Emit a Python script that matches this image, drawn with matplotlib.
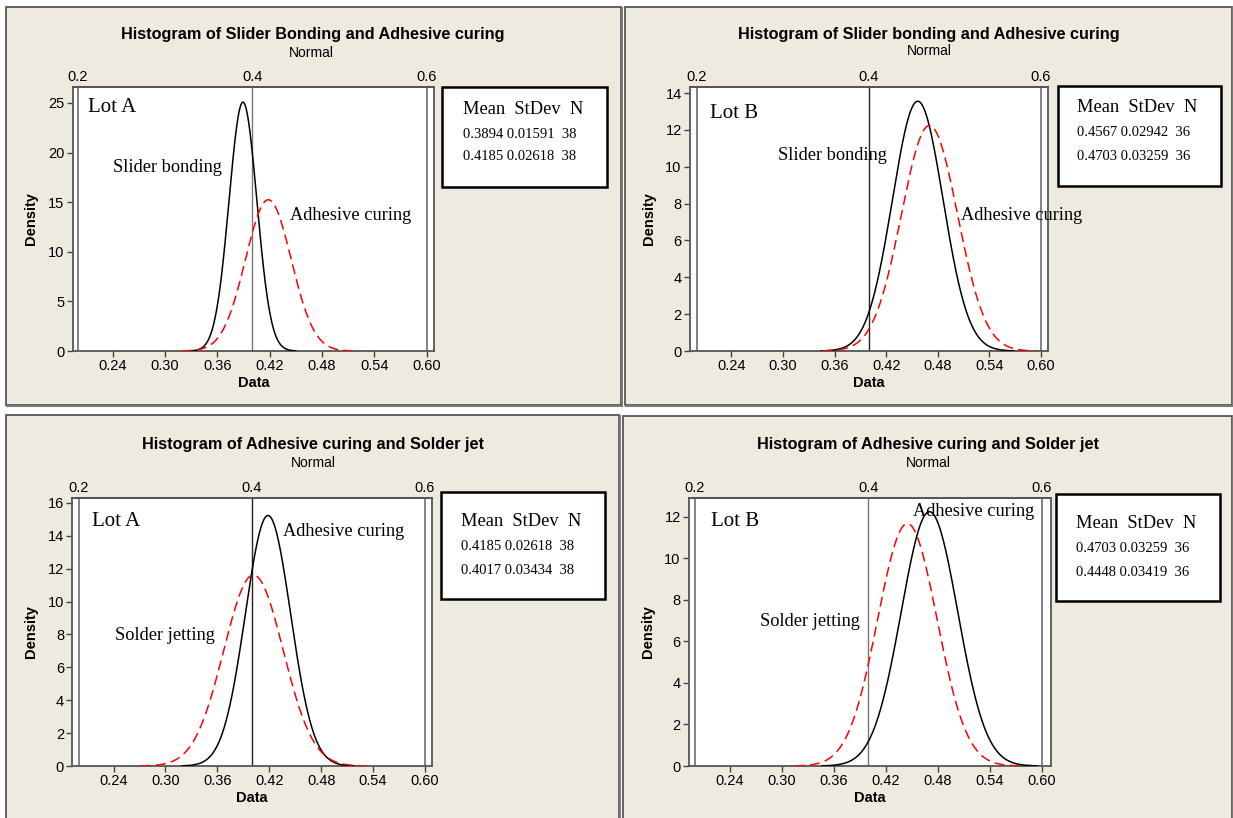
import numpy as np
import matplotlib.pyplot as plt
from matplotlib.patches import Rectangle

# figure size in pixels (dpi 100)
W, H = 1233, 818

titles = ["Histogram of Slider Bonding and Adhesive curing",
          "Histogram of Slider bonding and Adhesive curing",
          "Histogram of Adhesive curing and Solder jet",
          "Histogram of Adhesive curing and Solder jet"]
subtitle = "Normal"
lots = ["Lot A", "Lot B", "Lot A", "Lot B"]
series_names = [["Slider bonding", "Adhesive curing"],
                ["Slider bonding", "Adhesive curing"],
                ["Adhesive curing", "Solder jetting"],
                ["Adhesive curing", "Solder jetting"]]
means = [[0.3894, 0.4185], [0.4567, 0.4703], [0.4185, 0.4017], [0.4703, 0.4448]]
stdevs = [[0.01591, 0.02618], [0.02942, 0.03259], [0.02618, 0.03434], [0.03259, 0.03419]]
counts = [[38, 38], [36, 36], [38, 38], [36, 36]]

bottom_ticks = [0.24, 0.30, 0.36, 0.42, 0.48, 0.54, 0.60]
bottom_labels = ["0.24", "0.30", "0.36", "0.42", "0.48", "0.54", "0.60"]
top_ticks = [0.2, 0.4, 0.6]
top_labels = ["0.2", "0.4", "0.6"]
ref_lines = [0.2, 0.4, 0.6]
y_ticks = [[0, 5, 10, 15, 20, 25], [0, 2, 4, 6, 8, 10, 12, 14],
           [0, 2, 4, 6, 8, 10, 12, 14, 16], [0, 2, 4, 6, 8, 10, 12]]
y_tops = [26.6, 14.33, 16.3, 12.9]

SANS = "Liberation Sans"
SERIF = "Liberation Serif"
BEIGE = "#EEEAE0"


def fx(x):
    return x / W


def fy(y):
    return 1 - y / H


# layout in pixels -----------------------------------------------------------
frames = [(6, 7, 621, 405), (625, 7, 1232, 405), (6, 415, 619, 822), (623, 416, 1232, 822)]
axes_px = [(72.7, 87, 434, 351), (690, 87, 1048, 351), (72.4, 498, 432, 766), (689, 498, 1051, 766)]
x02_px = [(77.7, 426.7), (697, 1041), (79, 425), (695, 1042)]
title_pos = [(313, 35), (929, 35), (313, 445), (928, 445)]
normal_pos = [(311, 53), (929, 51), (313, 463), (928, 463)]
lot_pos = [(88, 108), (710, 114), (92, 522), (711, 522)]
name_pos = [[(113, 167), (290, 215)], [(778, 155), (961, 215)],
            [(283, 531), (115, 635)], [(913, 511), (760, 621)]]
legend_box = [(442, 87, 607, 187), (1058, 86, 1221, 186), (441, 492, 605, 599), (1056, 494, 1220, 601)]
legend_txt = [(463, [110, 134, 157]), (1077, [108, 133, 156]),
              (461, [521, 546, 570]), (1076, [523, 548, 572])]
mid_ref_color = ["#777777", "#222222", "#222222", "#777777"]

fig = plt.figure(figsize=(W / 100, H / 100), dpi=100)
fig.patch.set_facecolor("white")

for i in range(4):
    # panel background
    x0, y0, x1, y1 = frames[i]
    fig.add_artist(Rectangle((fx(x0), fy(y1)), fx(x1 - x0), (y1 - y0) / H,
                             transform=fig.transFigure, facecolor=BEIGE,
                             edgecolor="#4a4a4a", lw=1.2, zorder=-2))
    fig.add_artist(plt.Line2D([fx(x1 + 1), fx(x1 + 1)], [fy(y1), fy(y0 + 1)],
                              transform=fig.transFigure, color="#7a7a7a", lw=1.5, zorder=-1))
    fig.add_artist(plt.Line2D([fx(x0 + 1), fx(x1 + 1)], [fy(y1 + 1), fy(y1 + 1)],
                              transform=fig.transFigure, color="#7a7a7a", lw=1.5, zorder=-1))

    # axes
    l, t, r, b = axes_px[i]
    ax = fig.add_axes([fx(l), fy(b), (r - l) / W, (b - t) / H])
    ax.set_facecolor("white")
    p2, p6 = x02_px[i]
    scale = (p6 - p2) / 0.4
    ax.set_xlim(0.2 - (p2 - l) / scale, 0.6 + (r - p6) / scale)
    ax.set_ylim(0, y_tops[i])

    for v in ref_lines:
        c = mid_ref_color[i] if v == 0.4 else "#7a7a7a"
        ax.axvline(v, color=c, lw=1.3 if v != 0.4 else 1.0, zorder=1)

    for k in range(2):
        m, s = means[i][k], stdevs[i][k]
        xs = np.linspace(m - 3.8 * s, m + 3.8 * s, 400)
        ys = np.exp(-0.5 * ((xs - m) / s) ** 2) / (s * np.sqrt(2 * np.pi))
        if k == 0:
            ax.plot(xs, ys, color="black", lw=1.1, zorder=3)
        else:
            ax.plot(xs, ys, color="#FF0000", lw=1.1, ls=(0, (6.5, 3.5)), zorder=3)

    for sp in ax.spines.values():
        sp.set_color("#555555")
        sp.set_linewidth(1.3)
    ax.set_xticks(bottom_ticks)
    ax.set_xticklabels(bottom_labels, fontfamily=SANS)
    ax.set_yticks(y_ticks[i])
    ax.set_yticklabels([str(v) for v in y_ticks[i]], fontfamily=SANS)
    ax.tick_params(direction="out", length=4, width=1, color="#444444",
                   labelsize=10.5, pad=2)
    ax.set_xlabel("Data", fontfamily=SANS, fontweight="bold", fontsize=10.5, labelpad=2)
    ax.set_ylabel("Density", fontfamily=SANS, fontweight="bold", fontsize=10.5, labelpad=7)

    top = ax.secondary_xaxis("top")
    top.set_xticks(top_ticks)
    top.set_xticklabels(top_labels, fontfamily=SANS)
    top.tick_params(length=0, labelsize=10.5, pad=2)
    top.spines["top"].set_color("#555555")
    top.spines["top"].set_linewidth(1.3)

    # titles
    fig.text(fx(title_pos[i][0]), fy(title_pos[i][1]), titles[i], ha="center", va="center",
             fontfamily=SANS, fontweight="bold", fontsize=11.7)
    fig.text(fx(normal_pos[i][0]), fy(normal_pos[i][1]), subtitle, ha="center", va="center",
             fontfamily=SANS, fontsize=10)

    # annotations
    fig.text(fx(lot_pos[i][0]), fy(lot_pos[i][1]), lots[i], ha="left", va="center",
             fontfamily=SERIF, fontsize=15)
    for k in range(2):
        px, py = name_pos[i][k]
        fig.text(fx(px), fy(py), series_names[i][k], ha="left", va="center",
                 fontfamily=SERIF, fontsize=13.2)

    # legend box
    bx0, by0, bx1, by1 = legend_box[i]
    fig.add_artist(Rectangle((fx(bx0), fy(by1)), (bx1 - bx0) / W, (by1 - by0) / H,
                             transform=fig.transFigure, facecolor="white",
                             edgecolor="black", lw=1.8, zorder=1))
    tx, tys = legend_txt[i]
    fig.text(fx(tx), fy(tys[0]), "Mean  StDev  N", ha="left", va="center",
             fontfamily=SERIF, fontsize=13.3)
    for k in range(2):
        row = f"{means[i][k]:.4f} {stdevs[i][k]:.5f}  {counts[i][k]}"
        fig.text(fx(tx), fy(tys[k + 1]), row, ha="left", va="center",
                 fontfamily=SERIF, fontsize=10.5)

fig.savefig("out.png", dpi=100)
